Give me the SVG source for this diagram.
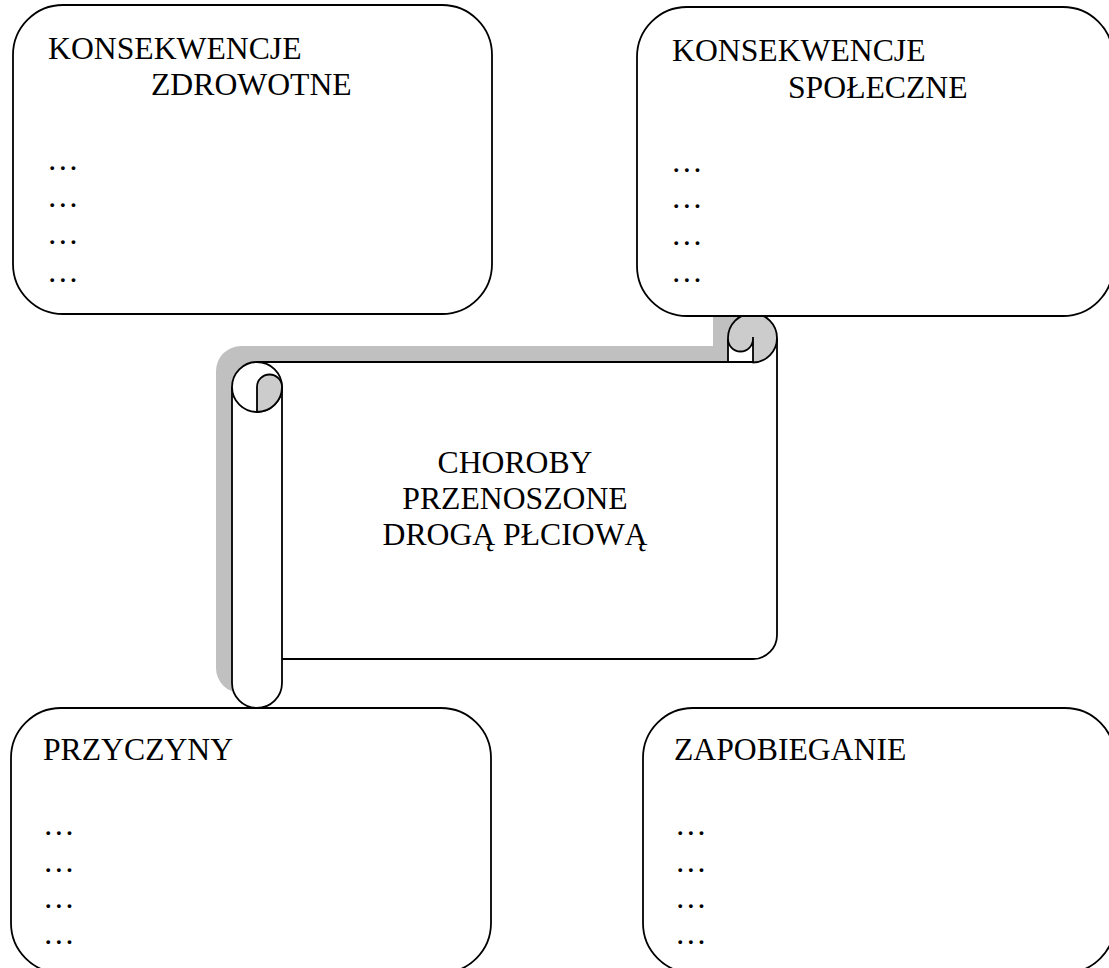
<svg xmlns="http://www.w3.org/2000/svg" width="1109" height="968" viewBox="0 0 1109 968">
<style>
.box{fill:#fff;stroke:#000;stroke-width:1.8}
.ln{fill:none;stroke:#000;stroke-width:1.8}
.t{font-family:"Liberation Serif","Times New Roman",serif;font-size:31.7px;fill:#000}
.c{text-anchor:middle}
.shadow{fill:#c0c0c0}
.curl{fill:#cccccc}
</style>
<rect width="1109" height="968" fill="#fff"/>
<g id="connectors"/>
<g id="scroll-choroby">
  <path class="shadow" d="M216,371 A25,25 0 0 1 241,346 L713,346 L713,316 L745,316 L745,380 L266,380 L266,668 A25,25 0 0 1 216,668 Z"/>
  <path fill="#fff" d="M257,362 H777 V635 A24,24 0 0 1 753,659 H257 Z"/>
  <path class="curl" d="M728,362 V338 A24.5,24.5 0 0 1 777,338 A24.5,24.5 0 0 1 752.5,362.5 Z"/>
  <path fill="#fff" d="M728,339 A12.5,12.5 0 0 0 753,339 V362 H728 Z"/>
  <path class="ln" d="M728,362 V338 A24.5,24.5 0 0 1 777,338 A24.5,24.5 0 0 1 752.5,362.5"/>
  <path class="ln" d="M728,339 A12.5,12.5 0 0 0 753,339 M753,337 V362"/>
  <path class="ln" d="M257,362 H753 M777,338 V635 A24,24 0 0 1 753,659 H282"/>
  <path fill="#fff" d="M232,387 V683 A25,25 0 0 0 282,683 V387 Z"/>
  <path class="ln" d="M282,386 V683 A25,25 0 0 1 232,683 V387"/>
  <circle cx="257" cy="387" r="25" class="box"/>
  <path class="curl" stroke="#000" stroke-width="1.8" d="M257,387 A12.5,12.5 0 0 1 282,387 A25,25 0 0 1 257,412 Z"/>
  <text class="t c" x="515" y="473">CHOROBY</text>
  <text class="t c" x="515" y="509">PRZENOSZONE</text>
  <text class="t c" x="515" y="545">DROGĄ PŁCIOWĄ</text>
</g>
<g id="box-zdrowotne">
  <rect class="box" x="13" y="5" width="479" height="309" rx="50" ry="50"/>
  <text class="t" x="48" y="59">KONSEKWENCJE</text>
  <text class="t" x="151" y="95">ZDROWOTNE</text>
  <text class="t" x="47" y="170">…</text>
  <text class="t" x="47" y="207">…</text>
  <text class="t" x="47" y="244">…</text>
  <text class="t" x="47" y="282">…</text>
</g>
<g id="box-spoleczne">
  <rect class="box" x="637" y="7" width="476" height="309" rx="50" ry="50"/>
  <text class="t" x="672" y="61">KONSEKWENCJE</text>
  <text class="t" x="788" y="98">SPOŁECZNE</text>
  <text class="t" x="671" y="172">…</text>
  <text class="t" x="671" y="208">…</text>
  <text class="t" x="671" y="245">…</text>
  <text class="t" x="671" y="282">…</text>
</g>
<g id="box-przyczyny">
  <rect class="box" x="11" y="708" width="480" height="265" rx="50" ry="50"/>
  <text class="t" x="43" y="760">PRZYCZYNY</text>
  <text class="t" x="43" y="835">…</text>
  <text class="t" x="43" y="872">…</text>
  <text class="t" x="43" y="908">…</text>
  <text class="t" x="43" y="944">…</text>
</g>
<g id="box-zapobieganie">
  <rect class="box" x="643" y="708" width="472" height="265" rx="50" ry="50"/>
  <text class="t" x="674" y="760">ZAPOBIEGANIE</text>
  <text class="t" x="675" y="835">…</text>
  <text class="t" x="675" y="872">…</text>
  <text class="t" x="675" y="908">…</text>
  <text class="t" x="675" y="944">…</text>
</g>
</svg>
